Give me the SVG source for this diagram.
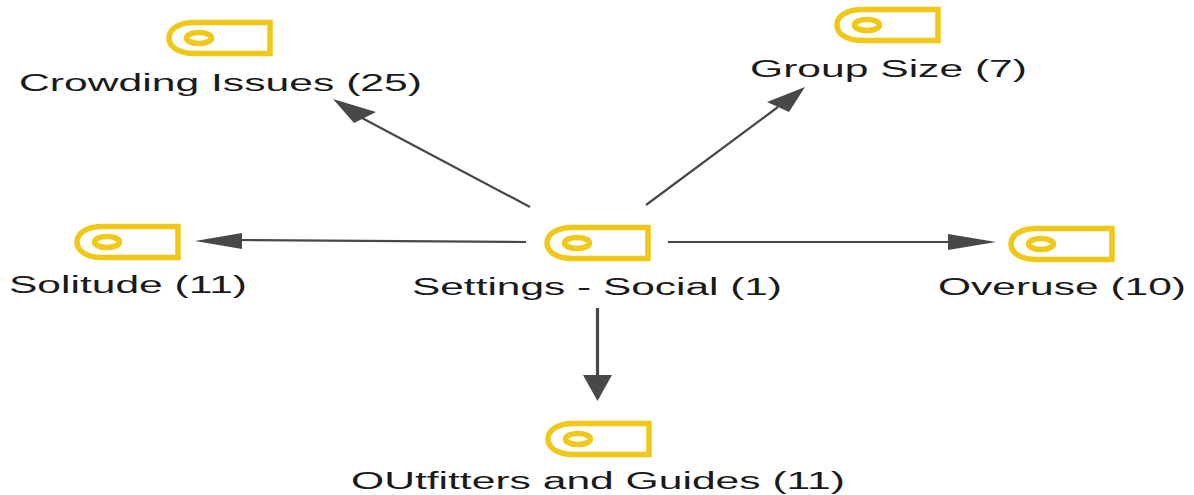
<svg xmlns="http://www.w3.org/2000/svg" width="1194" height="495" viewBox="0 0 1194 495">
<style>
.t{font-family:"Liberation Sans",Arial,sans-serif;font-size:23.5px;fill:#1a1a1a}
.i{fill:none;stroke:#f0c818}
.c{stroke:#484848;stroke-width:2.2;fill:none}
.a{fill:#484848}
</style>
<defs>
<g id="ic">
<path class="i" stroke-width="5.500" d="M103 2.500H28C10 2.500 2 10 2 18C2 26 10 33.500 28 33.500H103Z"/>
<ellipse class="i" stroke-width="5.500" cx="32" cy="18" rx="12.500" ry="5.500"/>
</g>
</defs>
<rect width="1194" height="495" fill="#fff"/>
<g id="connectors">
<path class="c" d="M530 207L362 118"/><path class="a" d="M333 99L376 112L354 123Z"/>
<path class="c" d="M646 205L778 107"/><path class="a" d="M805 87L767 102L789 112Z"/>
<path class="c" d="M526 242L240 240"/><path class="a" d="M195 241L242 233V249Z"/>
<path class="c" d="M668 242L950 242"/><path class="a" d="M996 242L948 234V250Z"/>
<path class="c" d="M597.500 308V378" style="stroke-width:3.200"/><path class="a" d="M597.500 401L583 375H612Z"/>
</g>
<g id="n-center"><use href="#ic" x="545" y="225"/><text class="t" x="412" y="294.500" textLength="370" lengthAdjust="spacingAndGlyphs">Settings - Social (1)</text></g>
<g id="n-crowding"><use href="#ic" x="167" y="20"/><text class="t" x="19" y="90.500" textLength="403" lengthAdjust="spacingAndGlyphs">Crowding Issues (25)</text></g>
<g id="n-group"><use href="#ic" x="835" y="7"/><text class="t" x="750" y="76.500" textLength="277" lengthAdjust="spacingAndGlyphs">Group Size (7)</text></g>
<g id="n-solitude"><use href="#ic" x="75" y="224"/><text class="t" x="9" y="292.500" textLength="238" lengthAdjust="spacingAndGlyphs">Solitude (11)</text></g>
<g id="n-overuse"><use href="#ic" x="1009" y="226"/><text class="t" x="938" y="294.500" textLength="248" lengthAdjust="spacingAndGlyphs">Overuse (10)</text></g>
<g id="n-outfitters"><use href="#ic" x="546" y="421"/><text class="t" x="351" y="488.500" textLength="494" lengthAdjust="spacingAndGlyphs">OUtfitters and Guides (11)</text></g>
</svg>
